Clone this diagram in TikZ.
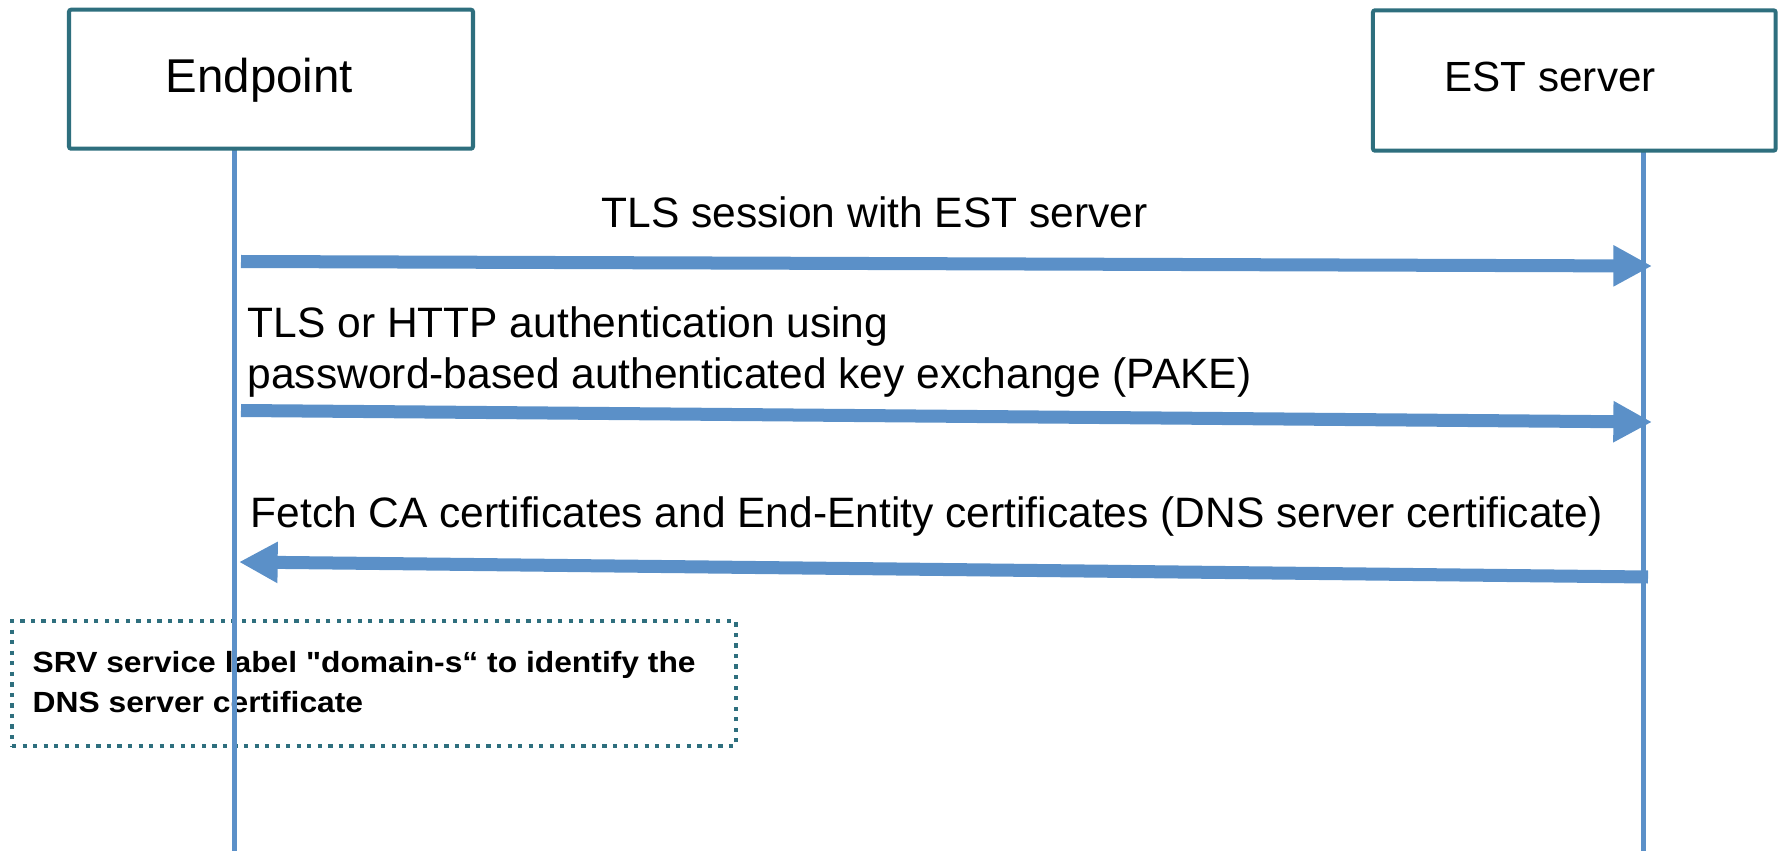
\documentclass[tikz,border=0pt]{standalone}
\usepackage{fontspec}
\setmainfont{Liberation Sans}
\newfontfamily\notefont[FakeStretch=1.09]{Liberation Sans}
\usetikzlibrary{arrows.meta}

\definecolor{boxteal}{RGB}{46,111,126}
\definecolor{msgblue}{RGB}{91,144,200}

\tikzset{
  actor/.style={draw=boxteal, line width=1.14pt, rounded corners=0.6pt, fill=white, inner sep=0pt},
  lifeline/.style={draw=msgblue, line width=1.4pt},
  msg/.style={draw=msgblue, line width=3.7pt, -{Triangle[length=11pt,width=11pt]}},
  msgtext/.style={anchor=base west, inner sep=0pt, align=left, font=\fontsize{12.1}{14.5}\selectfont},
  notebox/.style={draw=boxteal, line width=1.2pt, dash pattern=on 1.2pt off 1.8pt, inner sep=0pt,
    minimum width=72.4mm, minimum height=12.5mm},
}

\begin{document}
\begin{tikzpicture}[x=0.1mm,y=-0.1mm]
\useasboundingbox (0,0) rectangle (1779,851);

% actors
\coordinate (ep top) at (234.5,150);
\coordinate (ep bot) at (234.5,851);
\coordinate (est top) at (1643.5,150);
\coordinate (est bot) at (1643.5,851);

% note below the messages (base = last line)
\node[notebox] (note) at (374,683.5) {};
\node[anchor=base west, inner sep=0pt, align=left,
      font=\notefont\bfseries\fontsize{8.3}{11.1}\selectfont] (notetext) at (32,712)
  {SRV service label "domain-s“ to identify the\\DNS server certificate};

\draw[lifeline] (ep top) -- (ep bot);
\draw[lifeline] (est top) -- (est bot);

\node[actor, minimum width=40.4mm, minimum height=13.9mm] (endpoint) at (271,79.2) {};
\node[anchor=base west, inner sep=0pt, font=\fontsize{13.5}{16}\selectfont] (endpointlabel) at (165,93) {Endpoint};
\node[actor, minimum width=40.27mm, minimum height=14.04mm] (est) at (1574.3,80.5) {};
\node[anchor=base west, inner sep=0pt, font=\fontsize{12}{14}\selectfont] (estlabel) at (1444,92) {EST server};

% messages
\coordinate (m1s) at (241,261.5);
\coordinate (m1e) at (1652,266);
\coordinate (m2s) at (241,410.5);
\coordinate (m2e) at (1652,422);
\coordinate (m3s) at (1648,577);
\coordinate (m3e) at (239,562);

\draw[msg] (m1s) -- (m1e);
\draw[msg] (m2s) -- (m2e);
\draw[msg] (m3s) -- (m3e);

\node[msgtext] (tls) at (601,228) {TLS session with EST server};
\node[msgtext] (pake) at (247,388) {TLS or HTTP authentication using\\password-based authenticated key exchange (PAKE)};
\node[msgtext] (fetch) at (250,527) {Fetch CA certificates and End-Entity certificates (DNS server certificate)};
\end{tikzpicture}
\end{document}
